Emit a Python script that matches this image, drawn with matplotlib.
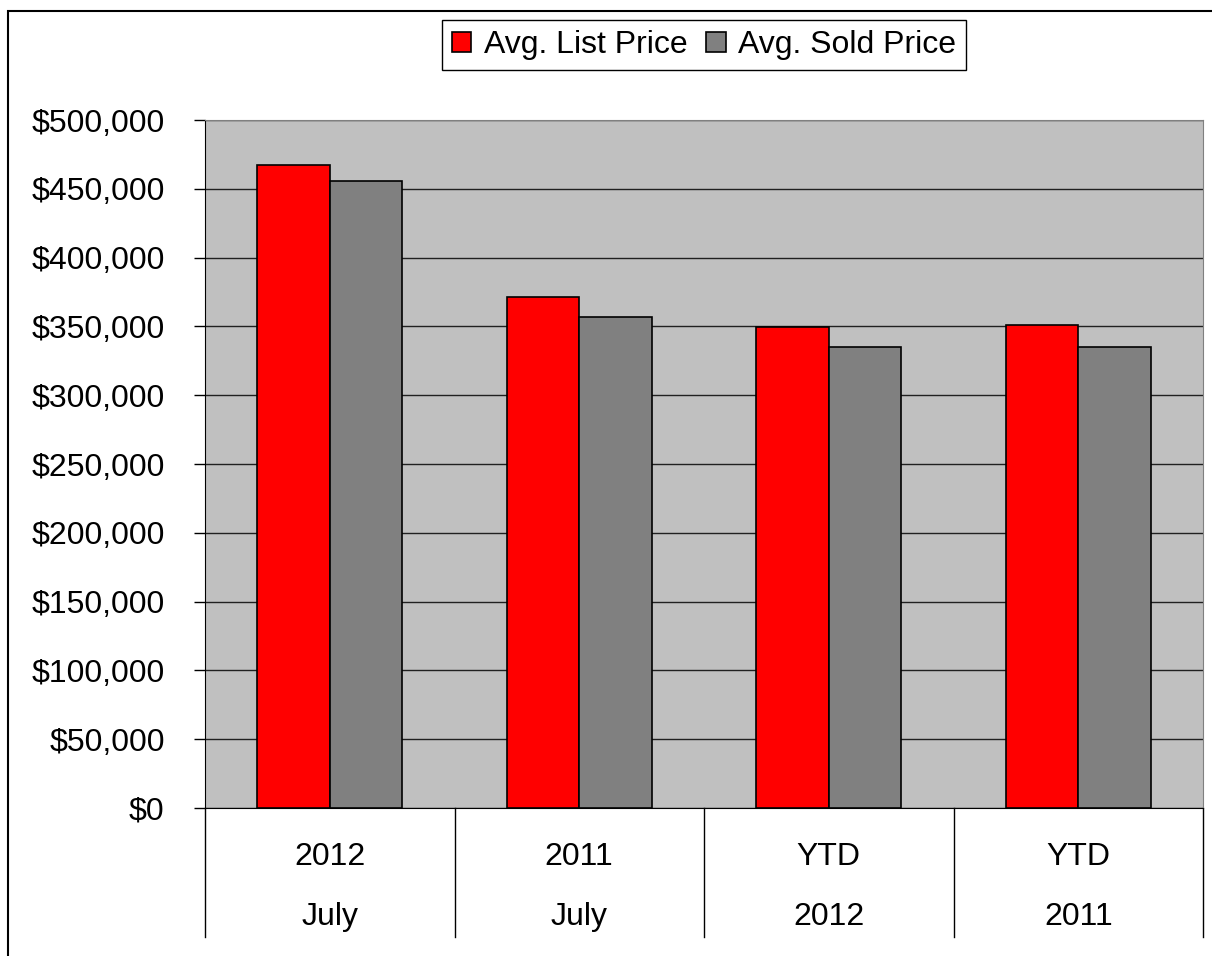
import numpy as np
import matplotlib
matplotlib.use("Agg")
import matplotlib.pyplot as plt
import matplotlib.transforms as mtransforms
from matplotlib.patches import Rectangle
from matplotlib.ticker import FuncFormatter

# --- data ---
top_labels = ["2012", "2011", "YTD", "YTD"]
bottom_labels = ["July", "July", "2012", "2011"]
list_price = [467000, 371500, 349500, 351000]
sold_price = [455500, 357000, 335000, 335000]

plt.rcParams['font.family'] = ['Liberation Sans', 'DejaVu Sans']
FS = 23

fig = plt.figure(figsize=(12.12, 9.56), dpi=100)
ax = fig.add_axes([205/1212, 1 - 808/956, (1203 - 205)/1212, (808 - 120)/956])

x = np.arange(len(top_labels))
w = 0.29
ax.bar(x - w/2, list_price, w, color='#FF0000', edgecolor='black', linewidth=1.2,
       label='Avg. List Price', zorder=3)
ax.bar(x + w/2, sold_price, w, color='#808080', edgecolor='black', linewidth=1.2,
       label='Avg. Sold Price', zorder=3)

ax.set_facecolor('#C0C0C0')
ax.set_xlim(-0.5, len(top_labels) - 0.5)
ax.set_ylim(0, 500000)
ax.set_yticks(np.arange(0, 500001, 50000))
ax.yaxis.set_major_formatter(FuncFormatter(lambda v, p: f"${v:,.0f}"))
ax.grid(axis='y', color='#202020', linewidth=1.0, zorder=1)
ax.tick_params(axis='y', labelsize=FS, length=8, width=1, direction='out', pad=21)
ax.set_xticks([])
for s in ['top', 'right']:
    ax.spines[s].set_color('#808080')
ax.spines['left'].set_color('black')
ax.spines['bottom'].set_color('black')

# two-row category labels with separators
trans = mtransforms.blended_transform_factory(ax.transData, ax.transAxes)
for i in range(len(top_labels)):
    ax.text(i, -0.0712, top_labels[i], transform=trans, ha='center', va='center', fontsize=FS)
    ax.text(i, -0.158, bottom_labels[i], transform=trans, ha='center', va='center', fontsize=FS)
for b in np.arange(-0.5, len(top_labels), 1.0):
    ax.plot([b, b], [0, -0.1875], transform=trans, color='black', linewidth=1.0, clip_on=False)

leg = ax.legend(loc='center', bbox_to_anchor=(0.5, (808 - 45) / 688),
                ncol=2, fontsize=FS, frameon=True, fancybox=False, framealpha=1,
                handlelength=0.6, handleheight=0.6, handletextpad=0.4, columnspacing=0.6,
                borderpad=0.3, borderaxespad=0)
leg.get_frame().set_edgecolor('black')
leg.get_frame().set_facecolor('white')
leg.get_frame().set_linewidth(1.0)

# outer chart border (only left/top visible in the reference)
fig.patches.append(Rectangle((8/1212, -0.1), 1.2, 1 - 11/956 + 0.1, transform=fig.transFigure,
                             fill=False, edgecolor='black', linewidth=1.5))

fig.savefig('out.png', dpi=100)
